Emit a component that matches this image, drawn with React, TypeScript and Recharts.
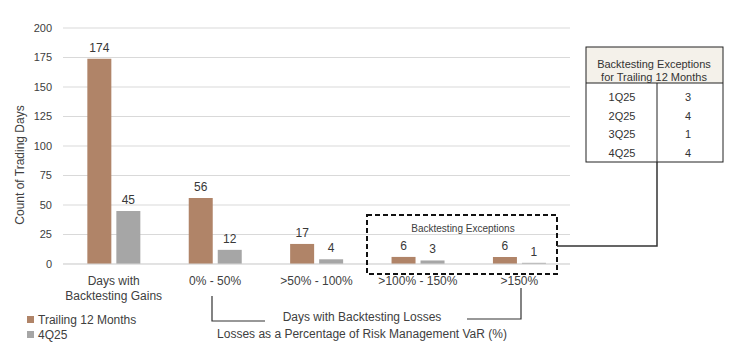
import React from 'react';
import { BarChart, Bar, XAxis, YAxis, CartesianGrid, LabelList } from 'recharts';

// chart values
const categories = ['Days with\nBacktesting Gains', '0% - 50%', '>50% - 100%', '>100% - 150%', '>150%'];
const trailing12 = [174, 56, 17, 6, 6];
const q425 = [45, 12, 4, 3, 1];
const yTicks = [0, 25, 50, 75, 100, 125, 150, 175, 200];

// side table
const quarters = ['1Q25', '2Q25', '3Q25', '4Q25'];
const exceptions = [3, 4, 1, 4];

const data = categories.map((name, i) => ({ name, trailing: trailing12[i], q4: q425[i] }));

const FONT = '"Liberation Sans", Arial, sans-serif';
const TEXT = '#404040';
const BROWN = '#b08468';
const GRAY = '#a6a6a6';

const series = [
  { key: 'trailing', name: 'Trailing 12 Months', color: BROWN },
  { key: 'q4', name: '4Q25', color: GRAY },
];

const CategoryTick = (props: any) => {
  const { x, y, payload } = props;
  const lines = String(payload.value).split('\n');
  return (
    <g transform={`translate(${x},${y})`}>
      <text textAnchor="middle" fill={TEXT} fontSize={12} fontFamily={FONT}>
        {lines.map((l, i) => (
          <tspan key={i} x={0} dy={i === 0 ? 13 : 15}>{l}</tspan>
        ))}
      </text>
    </g>
  );
};

const Overlay = () => (
  <svg width={729} height={358} style={{ position: 'absolute', left: 0, top: 0, pointerEvents: 'none' }} fontFamily={FONT}>
    <text x={20} y={165} transform="rotate(-90 20 165)" textAnchor="middle" dominantBaseline="central" fontSize={12} fill={TEXT}>
      Count of Trading Days
    </text>

    {/* legend */}
    {series.map((s, i) => (
      <g key={s.key}>
        <rect x={27} y={316 + i * 15} width={7} height={7} fill={s.color} />
        <text x={38} y={320 + i * 15} dominantBaseline="central" fontSize={12} fill={TEXT}>{s.name}</text>
      </g>
    ))}

    {/* dashed box round the exception buckets */}
    <rect x={367} y={215} width={190} height={59} fill="none" stroke="#111" strokeWidth={2} strokeDasharray="5 3" />
    <text x={463} y={228} textAnchor="middle" dominantBaseline="central" fontSize={10} fill={TEXT}>
      Backtesting Exceptions
    </text>
    <polyline points="557,246 657,246 657,162" fill="none" stroke="#333" strokeWidth={1.5} />

    {/* loss bracket */}
    <polyline points="212,296 212,321 265,321" fill="none" stroke="#333" strokeWidth={1.2} />
    <polyline points="467,319 521,319 521,288" fill="none" stroke="#333" strokeWidth={1.2} />
    <text x={362} y={317} textAnchor="middle" dominantBaseline="central" fontSize={12} fill={TEXT}>
      Days with Backtesting Losses
    </text>
    <text x={362} y={334} textAnchor="middle" dominantBaseline="central" fontSize={12} fill={TEXT}>
      Losses as a Percentage of Risk Management VaR (%)
    </text>

    {/* exceptions table */}
    <rect x={586} y={47} width={137} height={36} fill="#f4f1ea" />
    <rect x={586} y={47} width={137} height={115} fill="none" stroke="#222" strokeWidth={1} />
    <line x1={586} y1={83} x2={723} y2={83} stroke="#222" strokeWidth={1} />
    <line x1={657} y1={83} x2={657} y2={162} stroke="#222" strokeWidth={1} />
    <text x={654} y={64} textAnchor="middle" dominantBaseline="central" fontSize={11} fill="#333">Backtesting Exceptions</text>
    <text x={654} y={77} textAnchor="middle" dominantBaseline="central" fontSize={11} fill="#333">for Trailing 12 Months</text>
    {quarters.map((q, i) => (
      <g key={q}>
        <text x={622} y={97 + i * 18.7} textAnchor="middle" dominantBaseline="central" fontSize={11} fill="#333">{q}</text>
        <text x={688} y={97 + i * 18.7} textAnchor="middle" dominantBaseline="central" fontSize={11} fill="#333">{exceptions[i]}</text>
      </g>
    ))}
  </svg>
);

const App: React.FC = () => {
  return (
    <div style={{ position: 'absolute', left: 0, top: 0, width: 729, height: 358, background: '#fff' }}>
      <BarChart
        width={729}
        height={358}
        data={data}
        margin={{ top: 28, right: 159, bottom: 64, left: 0 }}
        barGap={5}
        barCategoryGap="24%"
      >
        <CartesianGrid vertical={false} stroke="#d9d9d9" />
        <XAxis
          dataKey="name"
          height={30}
          axisLine={{ stroke: '#d9d9d9' }}
          tickLine={false}
          tick={<CategoryTick />}
          interval={0}
        />
        <YAxis
          width={63}
          domain={[0, 200]}
          ticks={yTicks}
          axisLine={false}
          tickLine={false}
          tickMargin={5}
          tick={{ fill: TEXT, fontSize: 11, fontFamily: FONT }}
        />
        {series.map((s) => (
          <Bar key={s.key} dataKey={s.key} name={s.name} fill={s.color} isAnimationActive={false}>
            <LabelList dataKey={s.key} position="top" offset={7} fill="#383838" fontSize={12} fontFamily={FONT} />
          </Bar>
        ))}
      </BarChart>
      <Overlay />
    </div>
  );
};

export default App;
